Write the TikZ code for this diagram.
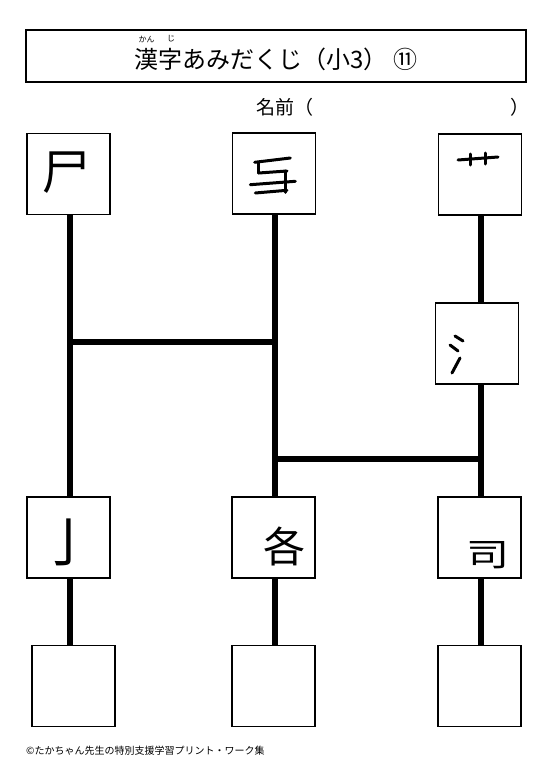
\documentclass[tikz,border=0pt]{standalone}
\usepackage{fontspec}
\newfontfamily\jp{Noto Sans CJK JP}
\begin{document}
\begin{tikzpicture}[x=1pt,y=-1pt,
  box/.style={draw,line width=1.3pt,minimum width=83pt,minimum height=81pt,inner sep=0pt},
  ladder/.style={line width=6pt},
  stroke/.style={line width=3pt,line cap=round},
  glyph/.style={inner sep=0pt}]
\useasboundingbox (0,0) rectangle (549,781);
% title
\node[draw,line width=1.2pt,minimum width=500pt,minimum height=52pt,inner sep=0pt] (title) at (276,56) {};
\node[glyph,font={\jp\fontsize{24pt}{24pt}\selectfont}] (tt) at (276,59) {漢字あみだくじ（小3）\ ⑪};
\node[glyph,font={\jp\fontsize{8pt}{8pt}\selectfont}] (rk) at (146.5,39) {かん};
\node[glyph,font={\jp\fontsize{8pt}{8pt}\selectfont}] (rj) at (171,39) {じ};
\node[glyph,anchor=west,font={\jp\fontsize{19pt}{19pt}\selectfont}] (name) at (256,107) {名前（};
\node[glyph,anchor=east,font={\jp\fontsize{19pt}{19pt}\selectfont}] (namer) at (530,107) {）};
% columns
\coordinate (c1) at (70,0);
\coordinate (c2) at (274.5,0);
\coordinate (c3) at (481,0);
\coordinate (r1) at (0,341.5);
\coordinate (r2) at (0,459);
% boxes
\node[box] (t1) at (68.5,174) {};
\node[box] (t2) at (274,173.5) {};
\node[box] (t3) at (480,174.5) {};
\node[box] (s3) at (477,343.5) {};
\node[box] (m1) at (68.5,537.5) {};
\node[box] (m2) at (273.5,537.5) {};
\node[box] (m3) at (479.5,537.5) {};
\node[box] (b1) at (73.5,686) {};
\node[box] (b2) at (273.5,686) {};
\node[box] (b3) at (479.5,686) {};
% ladder lines
\draw[ladder] (t1.south -| c1) -- (m1.north -| c1);
\draw[ladder] (m1.south -| c1) -- (b1.north -| c1);
\draw[ladder] (t2.south -| c2) -- (m2.north -| c2);
\draw[ladder] (m2.south -| c2) -- (b2.north -| c2);
\draw[ladder] (t3.south -| c3) -- (s3.north -| c3);
\draw[ladder] (s3.south -| c3) -- (m3.north -| c3);
\draw[ladder] (m3.south -| c3) -- (b3.north -| c3);
\draw[ladder] (c1 |- r1) -- (c2 |- r1);
\draw[ladder] (c2 |- r2) -- (c3 |- r2);
% glyphs
\node[glyph,font={\jp\fontsize{48pt}{48pt}\selectfont}] (g1) at (66.5,172.5) {尸};
% part of 争
\draw[stroke] (254.7,162.3) -- (290.3,158);
\draw[stroke] (258.7,162.3) -- (258.7,173);
\draw[stroke] (258.7,173) -- (287,171);
\draw[stroke] (285.3,171) -- (285.3,192.3);
\draw[stroke] (250.3,184.7) -- (295.3,181.3);
\draw[stroke] (255.3,193) -- (287,190.3);
% top of 艹
\draw[stroke] (458,160) -- (498,157);
\draw[stroke] (470,154) -- (470,165);
\draw[stroke] (485,153) -- (485,164);
% 氵
\draw[stroke] (455,336) -- (463,341);
\draw[stroke] (450,345) -- (458,351);
\draw[stroke] (460,358) -- (452,373);
\node[glyph,font={\jp\fontsize{54pt}{54pt}\selectfont}] (g4) at (68,542) {亅};
\node[glyph,font={\jp\fontsize{42pt}{42pt}\selectfont}] (g5) at (284,546) {各};
\node[glyph,yscale=0.75,font={\jp\fontsize{43pt}{43pt}\selectfont}] (g6) at (487.5,555.5) {司};
% footer
\node[glyph,anchor=west,font={\jp\fontsize{10pt}{10pt}\selectfont}] (foot) at (26,751) {©たかちゃん先生の特別支援学習プリント・ワーク集};
\end{tikzpicture}
\end{document}
